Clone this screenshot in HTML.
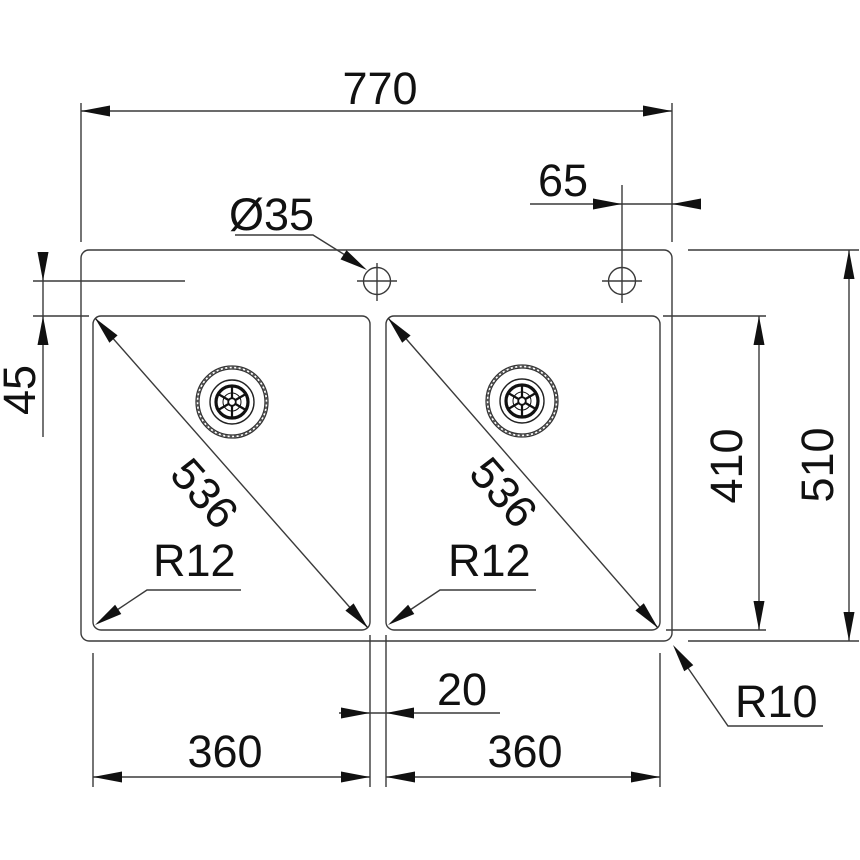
<!DOCTYPE html>
<html>
<head>
<meta charset="utf-8">
<style>
html,body{margin:0;padding:0;background:#fff;}
svg{display:block;}
text{font-family:"Liberation Sans",Arial,sans-serif;font-size:45px;fill:#111;}
</style>
</head>
<body>
<svg width="860" height="860" viewBox="0 0 860 860" xmlns="http://www.w3.org/2000/svg">
<g fill="none" stroke="#3a3a3a" stroke-width="1.4">
  <!-- sink outline -->
  <rect x="81" y="250" width="591" height="391" rx="8"/>
  <rect x="93" y="316" width="277" height="314" rx="8"/>
  <rect x="386" y="316" width="274" height="314" rx="8"/>

  <!-- 770 dimension -->
  <line x1="81" y1="103" x2="81" y2="242"/>
  <line x1="672" y1="103" x2="672" y2="242"/>
  <line x1="81" y1="111" x2="672" y2="111"/>

  <!-- 65 dimension -->
  <line x1="530" y1="204" x2="700" y2="204"/>
  <line x1="622" y1="185" x2="622" y2="303"/>

  <!-- tap holes -->
  <circle cx="377" cy="281" r="13.5"/>
  <line x1="357" y1="281" x2="397" y2="281"/>
  <line x1="377" y1="263" x2="377" y2="301"/>
  <circle cx="622" cy="281" r="13.5"/>
  <line x1="602" y1="281" x2="642" y2="281"/>

  <!-- Ø35 leader -->
  <polyline points="235,235 313,235 345,255"/>

  <!-- 45 dimension -->
  <line x1="33" y1="281" x2="185" y2="281"/>
  <line x1="33" y1="316" x2="89" y2="316"/>
  <line x1="43" y1="252" x2="43" y2="437"/>

  <!-- 510 dimension -->
  <line x1="688" y1="250" x2="859" y2="250"/>
  <line x1="688" y1="641" x2="859" y2="641"/>
  <line x1="849" y1="250" x2="849" y2="641"/>

  <!-- 410 dimension -->
  <line x1="663" y1="316" x2="766" y2="316"/>
  <line x1="666" y1="630" x2="766" y2="630"/>
  <line x1="759" y1="316" x2="759" y2="630"/>

  <!-- diagonals 536 -->
  <line x1="95" y1="318" x2="368" y2="628"/>
  <line x1="388" y1="318" x2="658" y2="628"/>

  <!-- R12 leaders -->
  <polyline points="241,590 147,590 117,610"/>
  <polyline points="536,590 440,590 410,610"/>

  <!-- R10 leader -->
  <polyline points="688,668 728,726 823,726"/>

  <!-- bottom extension lines -->
  <line x1="93" y1="653" x2="93" y2="787"/>
  <line x1="370" y1="635" x2="370" y2="787"/>
  <line x1="386" y1="635" x2="386" y2="787"/>
  <line x1="660" y1="653" x2="660" y2="787"/>
  <line x1="93" y1="777" x2="370" y2="777"/>
  <line x1="386" y1="777" x2="660" y2="777"/>
  <line x1="339" y1="713" x2="500" y2="713"/>
</g>

<!-- arrowheads -->
<g fill="#111" stroke="none">
  <polygon points="81,111 110,105.5 110,116.5"/>
  <polygon points="672,111 643,105.5 643,116.5"/>
  <polygon points="622,204 593,198.5 593,209.5"/>
  <polygon points="672,204 701,198.5 701,209.5"/>
  <polygon points="367,270 340.5,259.4 346.5,250.2"/>
  <polygon points="43,281 37.5,252 48.5,252"/>
  <polygon points="43,316 37.5,345 48.5,345"/>
  <polygon points="849,250 843.5,279 854.5,279"/>
  <polygon points="849,641 843.5,612 854.5,612"/>
  <polygon points="759,316 753.5,345 764.5,345"/>
  <polygon points="759,630 753.5,601 764.5,601"/>
  <polygon points="95,318 109.4,342.7 117.6,335.4"/>
  <polygon points="368,628 345.4,610.6 353.6,603.4"/>
  <polygon points="388,318 402.2,342.7 410.6,335.5"/>
  <polygon points="658,628 635.4,610.5 643.8,603.3"/>
  <polygon points="95,625 115.1,604.8 121.3,614.0"/>
  <polygon points="388,625 408.1,604.8 414.3,614.0"/>
  <polygon points="673,645 684.2,671.3 693.3,665.1"/>
  <polygon points="93,777 122,771.5 122,782.5"/>
  <polygon points="370,777 341,771.5 341,782.5"/>
  <polygon points="386,777 415,771.5 415,782.5"/>
  <polygon points="660,777 631,771.5 631,782.5"/>
  <polygon points="370,713 341,707.5 341,718.5"/>
  <polygon points="386,713 414,707.5 414,718.5"/>
</g>

<!-- drains -->
<g transform="translate(232,402)">
  <circle r="36" fill="none" stroke="#333" stroke-width="1.3"/>
  <circle r="33" fill="none" stroke="#333" stroke-width="1.3"/>
  <circle r="34.5" fill="none" stroke="#555" stroke-width="1.8" stroke-dasharray="2.5 2"/>
  <circle r="22" fill="none" stroke="#222" stroke-width="1.4"/>
  <circle r="16" fill="none" stroke="#111" stroke-width="3.2"/>
  <g stroke="#111" stroke-width="2.2">
    <line x1="0" y1="-4" x2="0" y2="-15"/>
    <line x1="3.5" y1="2" x2="13" y2="7.5"/>
    <line x1="-3.5" y1="2" x2="-13" y2="7.5"/>
    <line x1="3.5" y1="-2" x2="13" y2="-7.5"/>
    <line x1="-3.5" y1="-2" x2="-13" y2="-7.5"/>
    <line x1="0" y1="4" x2="0" y2="15"/>
  </g>
  <circle r="3.8" fill="#fff" stroke="#111" stroke-width="1.8"/>
  <circle r="9" fill="none" stroke="#111" stroke-width="1"/>
</g>
<g transform="translate(522,401)">
  <circle r="36" fill="none" stroke="#333" stroke-width="1.3"/>
  <circle r="33" fill="none" stroke="#333" stroke-width="1.3"/>
  <circle r="34.5" fill="none" stroke="#555" stroke-width="1.8" stroke-dasharray="2.5 2"/>
  <circle r="22" fill="none" stroke="#222" stroke-width="1.4"/>
  <circle r="16" fill="none" stroke="#111" stroke-width="3.2"/>
  <g stroke="#111" stroke-width="2.2">
    <line x1="0" y1="-4" x2="0" y2="-15"/>
    <line x1="3.5" y1="2" x2="13" y2="7.5"/>
    <line x1="-3.5" y1="2" x2="-13" y2="7.5"/>
    <line x1="3.5" y1="-2" x2="13" y2="-7.5"/>
    <line x1="-3.5" y1="-2" x2="-13" y2="-7.5"/>
    <line x1="0" y1="4" x2="0" y2="15"/>
  </g>
  <circle r="3.8" fill="#fff" stroke="#111" stroke-width="1.8"/>
  <circle r="9" fill="none" stroke="#111" stroke-width="1"/>
</g>

<!-- labels -->
<text x="380" y="104" text-anchor="middle">770</text>
<text x="563" y="196" text-anchor="middle">65</text>
<text x="229" y="230">Ø35</text>
<text transform="translate(35,390) rotate(-90)" text-anchor="middle">45</text>
<text transform="translate(742,466) rotate(-90)" text-anchor="middle">410</text>
<text transform="translate(833,465) rotate(-90)" text-anchor="middle">510</text>
<text transform="translate(205,493) rotate(48.6)" text-anchor="middle" y="16">536</text>
<text transform="translate(504,492) rotate(48.95)" text-anchor="middle" y="16">536</text>
<text x="153" y="576">R12</text>
<text x="448" y="576">R12</text>
<text x="735" y="717">R10</text>
<text x="437" y="705">20</text>
<text x="225" y="767" text-anchor="middle">360</text>
<text x="525" y="767" text-anchor="middle">360</text>
</svg>
</body>
</html>
